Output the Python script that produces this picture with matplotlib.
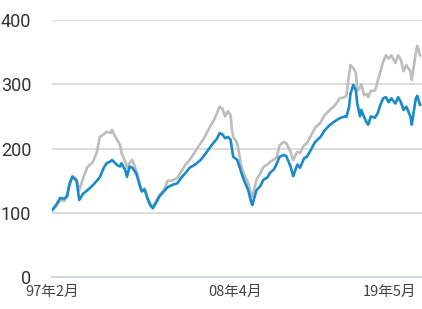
import numpy as np
import matplotlib
matplotlib.use("Agg")
import matplotlib.pyplot as plt

plt.rcParams['font.family'] = ['Roboto', 'DejaVu Sans']

# months since 1997-02
months = [0, 3, 6, 9, 11, 13, 15, 18, 20, 23, 26, 30, 33, 35, 38, 40, 43, 44, 46, 48,
          50, 51, 54, 55, 57, 59, 62, 65, 66, 68, 70, 72, 74, 77, 79, 82, 85, 88, 92, 95,
          98, 101, 105, 109, 112, 116, 119, 121, 123, 125, 127, 129, 131, 132, 133, 136, 139, 141, 144, 146,
          147, 150, 153, 155, 158, 160, 163, 165, 167, 170, 172, 175, 177, 180, 182, 185, 187, 190, 193, 197,
          200, 204, 208, 211, 215, 216, 218, 219, 221, 223, 224, 226, 227, 229, 231, 232, 234, 237, 239, 241,
          243, 245, 247, 249, 252, 254, 256, 258, 260, 263, 264, 266, 267, 268, 270]
gray_vals = [103, 110, 120, 118, 128, 148, 157, 152, 135, 155, 171, 179, 195, 218, 222, 226, 224, 229, 220, 213,
             205, 193, 178, 170, 178, 182, 165, 140, 135, 138, 125, 115, 110, 120, 128, 135, 150, 150, 154, 165,
             175, 182, 195, 208, 218, 234, 245, 255, 265, 262, 250, 258, 252, 230, 218, 208, 171, 160, 146, 130,
             125, 151, 162, 171, 175, 179, 183, 187, 205, 210, 208, 195, 182, 195, 193, 205, 208, 220, 232, 240,
             252, 260, 268, 278, 280, 282, 315, 330, 325, 318, 290, 295, 300, 283, 285, 280, 290, 290, 305, 320,
             335, 345, 340, 345, 333, 345, 338, 320, 330, 320, 307, 335, 350, 360, 345]
blue_vals = [104, 112, 123, 122, 125, 145, 156, 150, 120, 130, 135, 143, 150, 155, 170, 177, 180, 182, 178, 174,
             172, 177, 165, 156, 172, 170, 160, 138, 133, 136, 122, 112, 107, 118, 126, 133, 140, 143, 146, 155,
             162, 170, 175, 182, 190, 202, 210, 215, 224, 222, 216, 218, 214, 200, 187, 182, 162, 150, 135, 118,
             112, 135, 142, 151, 155, 162, 168, 177, 187, 190, 188, 172, 157, 175, 170, 185, 187, 198, 210, 218,
             228, 237, 243, 247, 250, 249, 265, 285, 299, 290, 270, 250, 260, 249, 240, 237, 250, 248, 255, 268,
             278, 280, 272, 278, 270, 280, 272, 260, 265, 250, 237, 265, 278, 282, 268]

tick_pos = [0, 134, 267]
tick_labels = ['97年2月', '08年4月', '19年5月']
y_ticks = [0, 100, 200, 300, 400]

fig = plt.figure(figsize=(4.22, 3.09), dpi=100)
ax = fig.add_axes([52 / 422, 32 / 309, 370 / 422, 257 / 309])

ax.plot(months, gray_vals, color='#bdbdbd', lw=1.9, solid_joinstyle='round')
ax.plot(months, blue_vals, color='#1a8bc8', lw=1.9, solid_joinstyle='round')

ax.set_xlim(0, 271.5)
ax.set_ylim(0, 400)
ax.set_yticks(y_ticks)
ax.set_yticklabels([str(v) for v in y_ticks])
ax.set_xticks(tick_pos)
ax.set_xticklabels(tick_labels, family=['Noto Sans CJK JP', 'DejaVu Sans'])
labs = ax.get_xticklabels()
labs[-1].set_ha('right')
labs[-1].set_x(271)

ax.grid(axis='y', color='#d9d9d9', lw=1.3)
ax.set_axisbelow(True)
for s in ['left', 'right', 'top']:
    ax.spines[s].set_visible(False)
ax.spines['bottom'].set_color('#c9d5e1')
ax.spines['bottom'].set_linewidth(1.3)
ax.tick_params(axis='y', length=0, pad=15, labelsize=13, labelcolor='#333333')
ax.tick_params(axis='x', length=0, pad=6, labelsize=10.5, labelcolor='#444444')

fig.savefig('out.png', dpi=100)
